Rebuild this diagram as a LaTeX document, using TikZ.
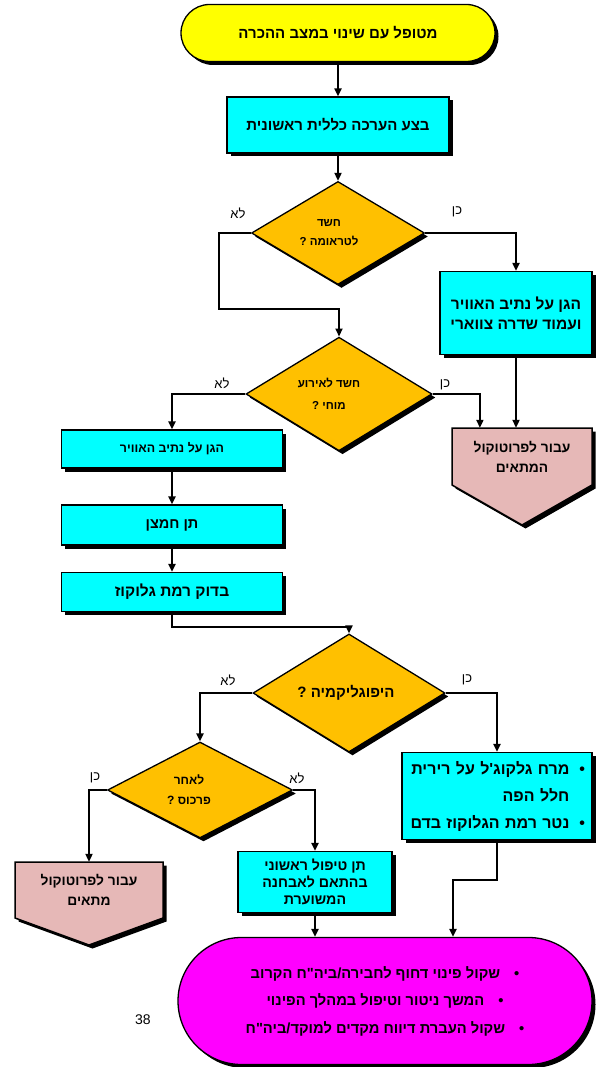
\documentclass[tikz,border=0pt]{standalone}
\usepackage{fontspec}
\setmainfont{Liberation Sans}
\newfontfamily\hebf[Script=Hebrew]{Liberation Sans}
\TeXXeTstate=1
\usetikzlibrary{shapes.geometric,shapes.misc,shadows,arrows.meta,calc}
\newcommand\HR[1]{\beginR #1\endR}
\newcommand\fs[2]{\hebf\bfseries\fontsize{#1}{#2}\selectfont}
\definecolor{yel}{HTML}{FFFF00}
\definecolor{cyanc}{HTML}{00FFFF}
\definecolor{amber}{HTML}{FFC000}
\definecolor{pinkc}{HTML}{E6B8B7}
\definecolor{magc}{HTML}{FF00FF}
\tikzset{
  base/.style={font=\fs{12}{19}, align=center, inner sep=0pt, line width=1.3pt, draw=black},
  shad/.style={drop shadow={shadow xshift=3.5pt, shadow yshift=-3.5pt, fill=black, opacity=1}},
  procbox/.style={base, shad, rectangle, fill=cyanc},
  decision/.style={base, shad, diamond, fill=amber},
  term/.style={base, shad, rounded rectangle, fill=yel},
  conn/.style={line width=2pt, -{Triangle[length=8pt,width=7pt]}},
  lbl/.style={font=\hebf\fontsize{13}{14}\selectfont, inner sep=0pt},
  pent/.style={line width=1.5pt, draw=black, fill=pinkc, shad},
  penttext/.style={font=\fs{13.8}{20}, align=center, inner sep=0pt}
}
\begin{document}
\begin{tikzpicture}[x=1pt,y=-1pt]
\useasboundingbox (0,0) rectangle (596,1067);
\clip (0,0) rectangle (596,1067);

% nodes
\node[term, minimum width=314pt, minimum height=57pt, font=\fs{15}{19}] (T) at (338,33) {\HR{מטופל עם שינוי במצב ההכרה}};
\node[procbox, minimum width=222pt, minimum height=56pt, font=\fs{15}{19}] (B1) at (338,125) {\HR{בצע הערכה כללית ראשונית}};
\node[decision, minimum width=173pt, minimum height=103pt, font=\fs{11.5}{19}] (D1) at (338,233) {\HR{\hspace{18pt}חשד}\\\HR{\hspace{18pt}לטראומה ?}};
\node[procbox, minimum width=152pt, minimum height=83pt, font=\fs{15.5}{20}] (B2) at (516,313) {\HR{הגן על נתיב האוויר}\\\HR{ועמוד שדרה צווארי}};
\node[decision, minimum width=186pt, minimum height=98pt, font=\fs{11.5}{22}] (D2) at (339,394) {\HR{\hspace{20pt}חשד לאירוע}\\\HR{\hspace{20pt}מוחי ?}};

\draw[pent] (452,428) -- (592,428) -- (592,485) -- (522,525) -- (452,485) -- cycle;
\node[penttext, minimum width=140pt, minimum height=57pt] (P1) at (522,456.5) {\HR{עבור לפרוטוקול}\\\HR{המתאים}};

\node[procbox, minimum width=221pt, minimum height=38pt, font=\fs{12.4}{19}] (B3) at (172,449) {\HR{הגן על נתיב האוויר}};
\node[procbox, minimum width=221pt, minimum height=40pt, font=\fs{14.5}{19}] (B4) at (172,525) {\HR{תן חמצן}};
\node[procbox, minimum width=221pt, minimum height=39pt, font=\fs{15.5}{19}] (B5) at (172,592) {\HR{בדוק רמת גלוקוז}};

\node[decision, minimum width=192pt, minimum height=88pt, font=\fs{15}{19}] (D3) at (349,693) {\HR{\hspace{6pt}היפוגליקמיה ?}};
\node[procbox, minimum width=190pt, minimum height=87pt, align=right, text width=176pt, font=\fs{16}{27}] (B6) at (497,796)
  {\HR{•\hspace{10pt}מרח גלקוג'ל על רירית}\\\HR{\phantom{•}\hspace{10pt}חלל הפה}\\\HR{•\hspace{10pt}נטר רמת הגלוקוז בדם}};

\node[decision, minimum width=185pt, minimum height=96pt, font=\fs{12}{20}] (D4) at (200,790) {\HR{\hspace{22pt}לאחר}\\\HR{\hspace{22pt}פרכוס ?}};

\draw[pent] (15,862) -- (163,862) -- (163,918) -- (89,945) -- (15,918) -- cycle;
\node[penttext, minimum width=148pt, minimum height=56pt] (P2) at (89,890) {\HR{עבור לפרוטוקול}\\\HR{מתאים}};

\node[procbox, minimum width=154pt, minimum height=61pt, font=\fs{14.2}{17}] (B7) at (315,882) {\HR{תן טיפול ראשוני}\\\HR{בהתאם לאבחנה}\\\HR{המשוערת}};

\node[base, shad, rounded rectangle, fill=magc, minimum width=414pt, minimum height=127pt, font=\fs{14.7}{27.5}] (S) at (385,1001)
  {\HR{•\hspace{14pt}שקול פינוי דחוף לחבירה/ביה"ח הקרוב}\\\HR{•\hspace{14pt}המשך ניטור וטיפול במהלך הפינוי}\\\HR{•\hspace{14pt}שקול העברת דיווח מקדים למוקד/ביה"ח}};

\node[font=\fontsize{14}{16}\selectfont, inner sep=0pt] (pg) at (143,1020) {38};

% labels
\node[lbl] (l1) at (238,213) {\HR{לא}};
\node[lbl] (y1) at (457,212) {\HR{כן}};
\node[lbl] (l2) at (222,383) {\HR{לא}};
\node[lbl] (y2) at (445,385) {\HR{כן}};
\node[lbl] (l3) at (228,680) {\HR{לא}};
\node[lbl] (y3) at (467,680) {\HR{כן}};
\node[lbl] (y4) at (95,778) {\HR{כן}};
\node[lbl] (l4) at (297,778) {\HR{לא}};

% connectors
\draw[conn] (T.south) -- (B1.north);
\draw[conn] (B1.south) -- (D1.north);
\draw[conn] (D1.west) -- ++(-32,0) |- ($(D2.north)+(0,-28)$) -- (D2.north);
\draw[conn] (D1.east) -| (B2.north);
\draw[conn] (D2.west) -| (B3.north);
\draw[conn] (D2.east) -| ($(P1.north west)!0.2!(P1.north east)$);
\draw[conn] (B2.south) -- (B2.south |- P1.north);
\draw[conn] (B3.south) -- (B4.north);
\draw[conn] (B4.south) -- (B5.north);
\draw[conn] (B5.south) -- ++(0,15) -| (D3.north);
\draw[conn] (D3.west) -| (D4.north);
\draw[conn] (D3.east) -| (B6.north);
\draw[conn] (D4.west) -| (P2.north);
\draw[conn] (D4.east) -| (B7.north);
\draw[conn] (B7.south) -- (B7.south |- S.north);
\draw[conn] (B6.south) -- ++(0,40) -| ($(S.north)+(68,0)$);
\end{tikzpicture}
\end{document}
